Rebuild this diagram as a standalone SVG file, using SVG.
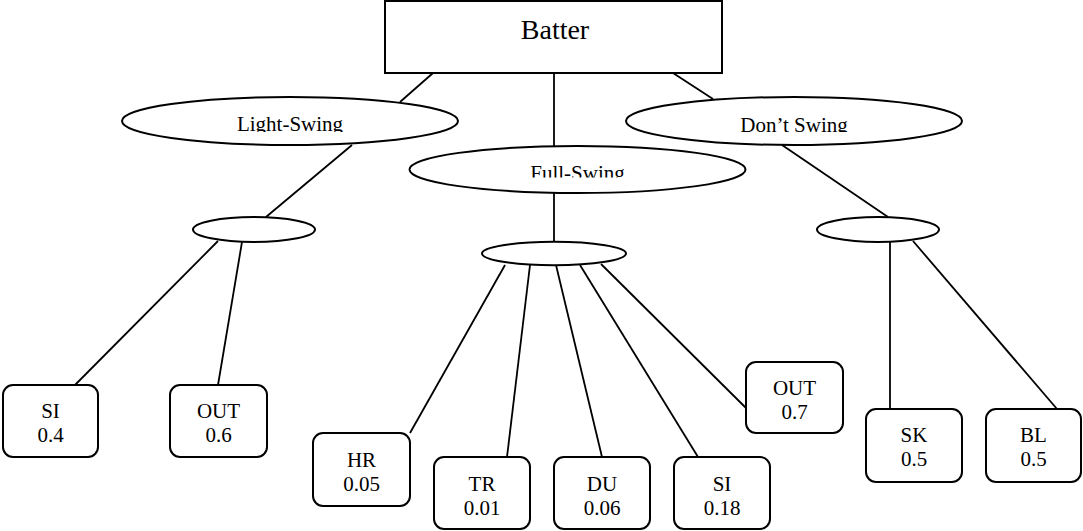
<svg xmlns="http://www.w3.org/2000/svg" width="1083" height="531" viewBox="0 0 1083 531">
<style>
  .box { fill: #fff; stroke: #000; stroke-width: 2; }
  .ell { fill: #fff; stroke: #000; stroke-width: 2; }
  .t { font-family: "Liberation Serif", "Times New Roman", serif; font-size: 21px; fill: #000; text-anchor: middle; }
  .big { font-size: 28px; }
  #connectors line { stroke: #000; stroke-width: 1.8; }
</style>
<defs>
  <clipPath id="clipTop"><rect x="0" y="0" width="1083" height="132"/></clipPath>
  <clipPath id="clipFull"><rect x="0" y="140" width="1083" height="37.5"/></clipPath>
</defs>
<rect width="1083" height="531" fill="#fff"/>
<g id="connectors">
  <line x1="433" y1="73" x2="400" y2="102"/>
  <line x1="554" y1="73" x2="554" y2="147"/>
  <line x1="673" y1="73" x2="713" y2="99"/>
  <line x1="352" y1="145" x2="266" y2="217"/>
  <line x1="554" y1="193" x2="554" y2="242"/>
  <line x1="782" y1="145" x2="888" y2="217"/>
  <line x1="218" y1="241" x2="75" y2="385"/>
  <line x1="242" y1="242" x2="218" y2="385"/>
  <line x1="505" y1="265" x2="410" y2="433"/>
  <line x1="530" y1="265" x2="507" y2="457"/>
  <line x1="556" y1="265" x2="602" y2="457"/>
  <line x1="580" y1="265" x2="698" y2="457"/>
  <line x1="601" y1="264" x2="746" y2="408"/>
  <line x1="890" y1="242" x2="890" y2="409"/>
  <line x1="913" y1="241" x2="1057" y2="409"/>
</g>
<g id="batter">
  <rect class="box" x="385" y="1" width="337" height="72"/>
  <text class="t big" x="555" y="39">Batter</text>
</g>
<g id="light-swing">
  <ellipse class="ell" cx="290" cy="121" rx="168" ry="24"/>
  <text class="t" x="290" y="131" clip-path="url(#clipTop)">Light-Swing</text>
</g>
<g id="dont-swing">
  <ellipse class="ell" cx="794" cy="121" rx="168" ry="24"/>
  <text class="t" x="794" y="131.5" clip-path="url(#clipTop)">Don’t Swing</text>
</g>
<g id="full-swing">
  <ellipse class="ell" cx="577.5" cy="169.5" rx="168" ry="23.5"/>
  <text class="t" x="577.5" y="180" clip-path="url(#clipFull)">Full-Swing</text>
</g>
<g id="chance-light">
  <ellipse class="ell" cx="254" cy="229.5" rx="61" ry="12.5"/>
</g>
<g id="chance-full">
  <ellipse class="ell" cx="554" cy="253.5" rx="72" ry="11.7"/>
</g>
<g id="chance-dont">
  <ellipse class="ell" cx="878" cy="229.5" rx="61" ry="12.5"/>
</g>
<g id="ls-si">
  <rect class="box" x="3" y="385" width="95" height="72" rx="10"/>
  <text class="t" x="50.5" y="418">SI</text>
  <text class="t" x="50.5" y="442">0.4</text>
</g>
<g id="ls-out">
  <rect class="box" x="170" y="385" width="97" height="72" rx="10"/>
  <text class="t" x="218.5" y="418">OUT</text>
  <text class="t" x="218.5" y="442">0.6</text>
</g>
<g id="fs-hr">
  <rect class="box" x="313" y="433" width="97" height="73" rx="10"/>
  <text class="t" x="361.5" y="467">HR</text>
  <text class="t" x="361.5" y="491">0.05</text>
</g>
<g id="fs-tr">
  <rect class="box" x="434" y="457" width="96" height="72" rx="10"/>
  <text class="t" x="482" y="491">TR</text>
  <text class="t" x="482" y="515">0.01</text>
</g>
<g id="fs-du">
  <rect class="box" x="554" y="457" width="96" height="72" rx="10"/>
  <text class="t" x="602" y="491">DU</text>
  <text class="t" x="602" y="515">0.06</text>
</g>
<g id="fs-si">
  <rect class="box" x="674" y="457" width="96" height="72" rx="10"/>
  <text class="t" x="722" y="491">SI</text>
  <text class="t" x="722" y="515">0.18</text>
</g>
<g id="fs-out">
  <rect class="box" x="746" y="362" width="97" height="71" rx="10"/>
  <text class="t" x="794.5" y="395">OUT</text>
  <text class="t" x="794.5" y="419">0.7</text>
</g>
<g id="ds-sk">
  <rect class="box" x="866" y="409" width="96" height="73" rx="10"/>
  <text class="t" x="914" y="442">SK</text>
  <text class="t" x="914" y="466">0.5</text>
</g>
<g id="ds-bl">
  <rect class="box" x="986" y="409" width="95" height="73" rx="10"/>
  <text class="t" x="1033.5" y="442">BL</text>
  <text class="t" x="1033.5" y="466">0.5</text>
</g>
</svg>
